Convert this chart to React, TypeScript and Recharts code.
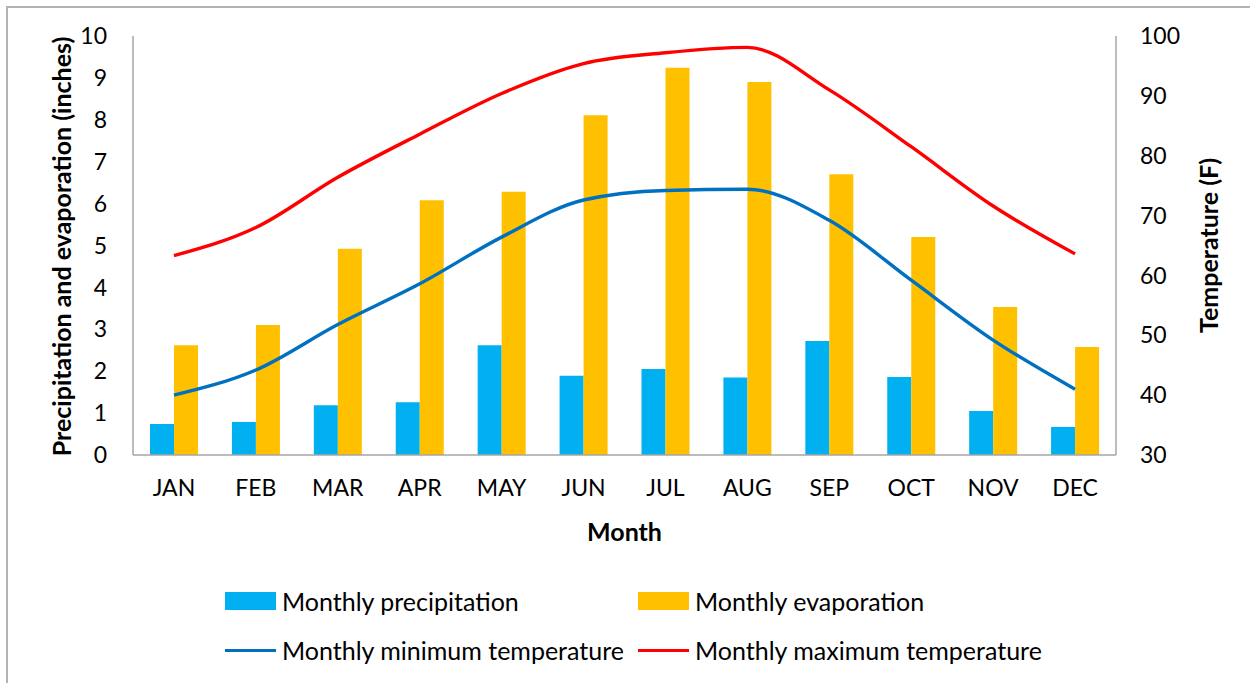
import React from "react";
import {
  ComposedChart,
  Bar,
  Line,
  XAxis,
  YAxis,
  Legend,
} from "recharts";

// ── Data ──────────────────────────────────────────────────────────────────────

const months = ["JAN", "FEB", "MAR", "APR", "MAY", "JUN", "JUL", "AUG", "SEP", "OCT", "NOV", "DEC"];
const precipitation = [0.74, 0.79, 1.19, 1.26, 2.62, 1.89, 2.05, 1.85, 2.72, 1.86, 1.05, 0.67];
const evaporation = [2.62, 3.1, 4.92, 6.08, 6.28, 8.11, 9.24, 8.9, 6.7, 5.2, 3.53, 2.58];
const minTemp = [40.0, 44.2, 51.8, 58.6, 66.4, 72.6, 74.2, 74.4, 69.2, 59.2, 49.2, 41.0];
const maxTemp = [63.3, 68.0, 76.4, 83.6, 90.4, 95.4, 97.2, 98.1, 91.0, 81.5, 71.6, 63.6];

const leftTicks = [0, 1, 2, 3, 4, 5, 6, 7, 8, 9, 10];
const rightTicks = [30, 40, 50, 60, 70, 80, 90, 100];

const data = months.map((m, i) => ({
  month: m,
  precip: precipitation[i],
  evap: evaporation[i],
  tmin: minTemp[i],
  tmax: maxTemp[i],
}));

const FONT = "Lato, 'Noto Sans', sans-serif";
const AXIS_GRAY = "#a6a6a6";

const legendRows = [
  [
    { label: "Monthly precipitation", color: "#00B0F0", kind: "bar" },
    { label: "Monthly evaporation", color: "#FFC000", kind: "bar" },
  ],
  [
    { label: "Monthly minimum temperature", color: "#0070C0", kind: "line" },
    { label: "Monthly maximum temperature", color: "#FF0000", kind: "line" },
  ],
];

// ── Legend ────────────────────────────────────────────────────────────────────

function ChartLegend() {
  return (
    <div style={{ position: "relative", height: 118, fontFamily: FONT, fontSize: 25, color: "#000" }}>
      {legendRows.map((row, r) =>
        row.map((item, c) => (
          <div
            key={item.label}
            style={{
              position: "absolute",
              left: c === 0 ? 225 : 638,
              top: r === 0 ? 32 : 81,
              display: "flex",
              alignItems: "center",
              height: 28,
              whiteSpace: "nowrap",
            }}
          >
            <span
              style={{
                display: "inline-block",
                width: 51,
                height: item.kind === "bar" ? 18 : 3,
                background: item.color,
                marginRight: 6,
              }}
            />
            {item.label}
          </div>
        ))
      )}
    </div>
  );
}

// ── Axis titles ───────────────────────────────────────────────────────────────

function LeftTitle(props: any) {
  const { viewBox } = props;
  const cy = viewBox.y + viewBox.height / 2 + 1;
  return (
    <text
      x={61}
      y={cy}
      transform={`rotate(-90, 61, ${cy})`}
      textAnchor="middle"
      dominantBaseline="central"
      fontFamily={FONT}
      fontSize={25}
      fontWeight={700}
      fill="#000"
    >
      Precipitation and evaporation (inches)
    </text>
  );
}

function RightTitle(props: any) {
  const { viewBox } = props;
  const cy = viewBox.y + viewBox.height / 2;
  const x = 1208;
  return (
    <text
      x={x}
      y={cy}
      transform={`rotate(-90, ${x}, ${cy})`}
      textAnchor="middle"
      dominantBaseline="central"
      fontFamily={FONT}
      fontSize={25}
      fontWeight={700}
      fill="#000"
    >
      Temperature (F)
    </text>
  );
}

function BottomTitle(props: any) {
  const { viewBox } = props;
  return (
    <text
      x={viewBox.x + viewBox.width / 2}
      y={531}
      textAnchor="middle"
      dominantBaseline="central"
      fontFamily={FONT}
      fontSize={25}
      fontWeight={700}
      fill="#000"
    >
      Month
    </text>
  );
}

// ── Main ──────────────────────────────────────────────────────────────────────

export default function App() {
  const tick = { fill: "#000", fontSize: 23, fontFamily: FONT };
  return (
    <div
      style={{
        position: "absolute",
        left: 0,
        top: 0,
        width: 1250,
        height: 683,
        background: "#fff",
        overflow: "hidden",
      }}
    >
      {/* cropped frame: only the top and left edges show */}
      <div style={{ position: "absolute", left: 6, top: 6, width: 1244, height: 677, borderTop: "2px solid #b3b3b3", borderLeft: "2px solid #b3b3b3" }} />
      <ComposedChart
        width={1250}
        height={683}
        data={data}
        margin={{ top: 36, right: 0, bottom: 10, left: 0 }}
        barGap={0}
        style={{ position: "absolute", left: 0, top: 0 }}
      >
        <XAxis
          dataKey="month"
          height={100}
          tick={tick}
          tickLine={false}
          tickSize={0}
          tickMargin={25}
          axisLine={{ stroke: AXIS_GRAY, strokeWidth: 1.5 }}
          interval={0}
          label={<BottomTitle />}
        />
        <YAxis
          yAxisId="in"
          orientation="left"
          width={133}
          domain={[0, 10]}
          ticks={leftTicks}
          tick={tick}
          tickLine={false}
          tickSize={0}
          tickMargin={26}
          axisLine={{ stroke: AXIS_GRAY, strokeWidth: 1.5 }}
          label={<LeftTitle />}
        />
        <YAxis
          yAxisId="temp"
          orientation="right"
          width={134}
          domain={[30, 100]}
          ticks={rightTicks}
          tick={tick}
          tickLine={false}
          tickSize={0}
          tickMargin={24}
          axisLine={{ stroke: AXIS_GRAY, strokeWidth: 1.5 }}
          label={<RightTitle />}
        />
        <Legend verticalAlign="bottom" content={<ChartLegend />} />
        <Bar yAxisId="in" dataKey="precip" name="Monthly precipitation" fill="#00B0F0" barSize={24} isAnimationActive={false} />
        <Bar yAxisId="in" dataKey="evap" name="Monthly evaporation" fill="#FFC000" barSize={24} isAnimationActive={false} />
        <Line
          yAxisId="temp"
          type="monotone"
          dataKey="tmin"
          name="Monthly minimum temperature"
          stroke="#0070C0"
          strokeWidth={3.4}
          dot={false}
          isAnimationActive={false}
        />
        <Line
          yAxisId="temp"
          type="monotone"
          dataKey="tmax"
          name="Monthly maximum temperature"
          stroke="#FF0000"
          strokeWidth={3.4}
          dot={false}
          isAnimationActive={false}
        />
      </ComposedChart>
    </div>
  );
}
